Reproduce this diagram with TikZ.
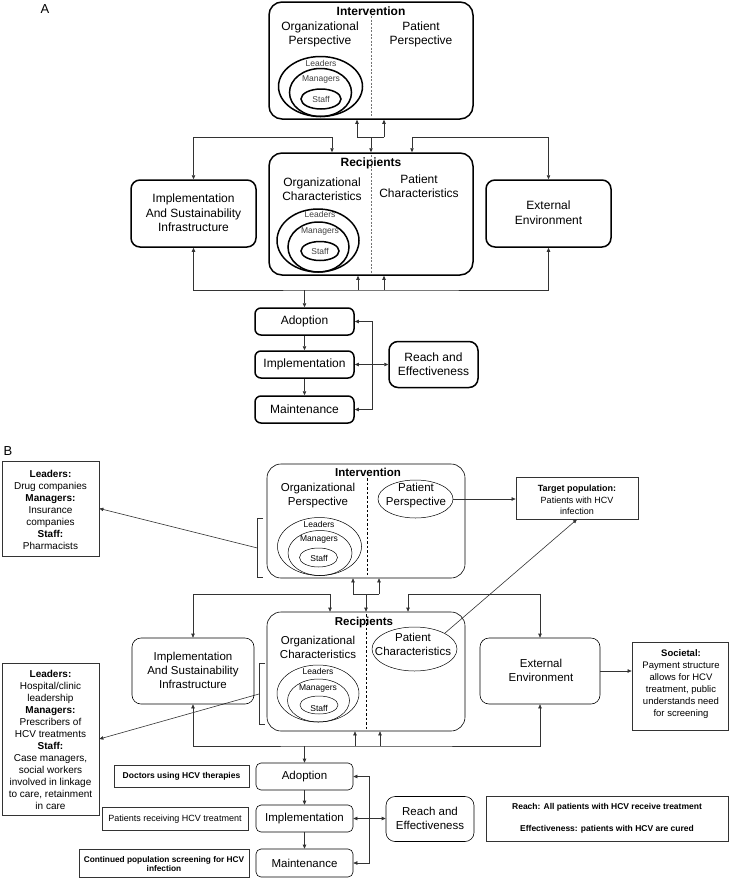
\documentclass[tikz,border=0pt]{standalone}
\usepackage{fontspec}
\setmainfont{Liberation Sans}
\usetikzlibrary{arrows.meta,shapes.geometric,calc}
\newcommand\fsA{\fontsize{12}{14.5}\selectfont}
\newcommand\fsB{\fontsize{11.5}{14}\selectfont}
\newcommand\fsS{\fontsize{8.5}{10}\selectfont}
\newcommand\fsL{\fontsize{10}{12}\selectfont}
\newcommand\fsT{\fontsize{9}{11.5}\selectfont}
\newcommand\fsE{\fontsize{8.5}{10}\selectfont}
\tikzset{
  >={Triangle[length=4pt,width=3.4pt]},
  boxA/.style={draw, line width=1.5pt, rounded corners=9pt, inner sep=0pt},
  bigA/.style={draw, line width=1.5pt, rounded corners=13pt, inner sep=0pt},
  boxB/.style={draw, line width=0.6pt, rounded corners=9pt, inner sep=0pt},
  bigB/.style={draw, line width=0.6pt, rounded corners=14pt, inner sep=0pt},
  smallB/.style={draw, line width=0.6pt, rounded corners=5pt, inner sep=0pt},
  tbox/.style={draw=black!80, line width=0.7pt, inner sep=0pt},
  ellA/.style={draw, ellipse, line width=1.5pt, inner sep=0pt},
  ellB/.style={draw, ellipse, line width=0.5pt, inner sep=0pt},
  conn/.style={draw=black!80, line width=0.6pt},
  txt/.style={inner sep=0pt, align=center, text=black},
  gtxt/.style={inner sep=0pt, align=center, text=black!75},
}
\begin{document}
\begin{tikzpicture}[x=1pt,y=-1pt]
\fill[white] (0,0) rectangle (729,878);
\useasboundingbox (0,0) rectangle (729,878);

% ================= PART A =================
\node[txt, font=\fontsize{13}{15}\selectfont] (labA) at (45,9) {A};

\node[bigA, minimum width=204pt, minimum height=117pt] (intA) at (371,60.5) {};
\node[txt, font=\fsA\bfseries] (tIntA) at (371,11) {Intervention};
\draw[black!55, line width=0.8pt, dash pattern=on 2pt off 1.5pt] (371,16) -- (371,117);
\node[txt, font=\fsA] (opA) at (320,34.5) {Organizational\\Perspective};
\node[txt, font=\fsA] (ppA) at (421,34.5) {Patient\\Perspective};
\node[ellA, minimum width=84pt, minimum height=60pt] (eL1) at (320.5,86.5) {};
\node[ellA, minimum width=62pt, minimum height=48pt] (eM1) at (320.5,92.5) {};
\node[ellA, minimum width=40pt, minimum height=20pt] (eS1) at (321,99) {};
\node[gtxt, font=\fsS] (tL1) at (321,63.5) {Leaders};
\node[gtxt, font=\fsS] (tM1) at (321,79) {Managers};
\node[gtxt, font=\fsS] (tS1) at (321,99.5) {Staff};

\node[bigA, minimum width=204pt, minimum height=122pt] (recA) at (371,214) {};
\node[txt, font=\fsA\bfseries] (tRecA) at (371,163) {Recipients};
\draw[black!55, line width=0.8pt, dash pattern=on 2pt off 1.5pt] (371,155) -- (371,274);
\node[txt, font=\fsA] (ocA) at (322,189) {Organizational\\Characteristics};
\node[txt, font=\fsA] (pcA) at (419,186) {Patient\\Characteristics};
\node[ellA, minimum width=82pt, minimum height=63pt] (eL2) at (318,240.5) {};
\node[ellA, minimum width=61pt, minimum height=50pt] (eM2) at (318.5,247) {};
\node[ellA, minimum width=38pt, minimum height=19pt] (eS2) at (320,251) {};
\node[gtxt, font=\fsS] (tL2) at (320,214.5) {Leaders};
\node[gtxt, font=\fsS] (tM2) at (320,231) {Managers};
\node[gtxt, font=\fsS] (tS2) at (320,251.5) {Staff};

\node[boxA, minimum width=125pt, minimum height=67pt] (implA) at (193.5,213.5) {};
\node[txt, font=\fsA] (timplA) at (193.5,213) {Implementation\\And Sustainability\\Infrastructure};
\node[boxA, minimum width=125pt, minimum height=67pt] (extA) at (548.5,213.5) {};
\node[txt, font=\fsA] (textA) at (548.5,212.5) {External\\Environment};

\node[boxA, rounded corners=6pt, minimum width=99pt, minimum height=27pt] (adoA) at (304.5,321.5) {};
\node[txt, font=\fsA] (tadoA) at (304.5,321.5) {Adoption};
\node[boxA, rounded corners=6pt, minimum width=99pt, minimum height=27pt] (impA) at (304.5,364.5) {};
\node[txt, font=\fsA] (timpA) at (304.5,364.5) {Implementation};
\node[boxA, rounded corners=6pt, minimum width=99pt, minimum height=27pt] (mainA) at (304.5,409.5) {};
\node[txt, font=\fsA] (tmainA) at (304.5,409.5) {Maintenance};
\node[boxA, minimum width=89pt, minimum height=46pt] (reachA) at (433.5,364.5) {};
\node[txt, font=\fsA] (treachA) at (433.5,364) {Reach and\\Effectiveness};

% connectors A (top)
\coordinate (tlA) at (332,137);
\coordinate (trA) at (412,137);
\coordinate (m1A) at (357,137);
\coordinate (m2A) at (384,137);
\coordinate (mcA) at (371,137);
\draw[conn,<->] (implA.north) |- (tlA) -- (tlA |- recA.north);
\draw[conn,<->] (extA.north) |- (trA) -- (trA |- recA.north);
\draw[conn,->] (m1A) -- (m1A |- intA.south);
\draw[conn,->] (m2A) -- (m2A |- intA.south);
\draw[conn] (m1A) -- (m2A);
\draw[conn,->] (mcA) -- (recA.north);
% connectors A (bottom)
\coordinate (bA) at (371,290);
\coordinate (r1A) at (358,290);
\coordinate (r2A) at (384,290);
\draw[conn,<->] (implA.south) |- (bA) -| (extA.south);
\draw[conn,->] (r1A) -- (r1A |- recA.south);
\draw[conn,->] (r2A) -- (r2A |- recA.south);
\draw[conn,->] (adoA.north |- bA) -- (adoA.north);
\draw[conn,->] (adoA.south) -- (impA.north);
\draw[conn,->] (impA.south) -- (mainA.north);
\coordinate (kA) at (372,0);
\draw[conn,<->] (adoA.east) -- (adoA.east -| kA) -- (mainA.east -| kA) -- (mainA.east);
\draw[conn,<->] (impA.east) -- (reachA.west);

% ================= PART B =================
\node[txt, font=\fontsize{13}{15}\selectfont] (labB) at (8,451) {B};

\node[tbox, minimum width=97pt, minimum height=95pt] (lb1) at (50.5,508.5) {};
\node[txt, font=\fsL] (tlb1) at (50.5,510) {\textbf{Leaders:}\\Drug companies\\\textbf{Managers:}\\Insurance\\companies\\\textbf{Staff:}\\Pharmacists};

\node[bigB, minimum width=198pt, minimum height=114pt] (intB) at (366,521) {};
\node[txt, font=\fsB\bfseries] (tIntB) at (368,472.5) {Intervention};
\draw[black, line width=0.5pt, dash pattern=on 2.5pt off 2pt] (367,478) -- (367,576);
\node[txt, font=\fsB] (opB) at (318,496) {Organizational\\Perspective};
\node[ellB, minimum width=75pt, minimum height=38pt] (ppB) at (415.5,499) {};
\node[txt, font=\fsB] (tppB) at (416,496) {Patient\\Perspective};
\node[ellB, minimum width=84pt, minimum height=58pt] (eL3) at (319.5,546.5) {};
\node[ellB, minimum width=64pt, minimum height=45pt] (eM3) at (320,553) {};
\node[ellB, minimum width=38pt, minimum height=19pt] (eS3) at (318.5,557.5) {};
\node[txt, font=\fsS] (tL3) at (319,524) {Leaders};
\node[txt, font=\fsS] (tM3) at (319,539) {Managers};
\node[txt, font=\fsS] (tS3) at (319,558) {Staff};
% bracket intervention
\draw[conn] (263,518) -- (257.5,518) -- (257.5,577.5) -- (263,577.5);
\coordinate (brI) at (257.5,548);
\draw[conn,->] (brI) -- (lb1.east);

\node[tbox, minimum width=122pt, minimum height=42pt] (tgt) at (577,498) {};
\node[txt, font=\fsT] (ttgt) at (577,500) {\textbf{Target population:}\\Patients with HCV\\infection};
\draw[conn,->] (ppB.east) -- (ppB.east -| tgt.west);

\node[bigB, minimum width=198pt, minimum height=119pt] (recB) at (366,671.5) {};
\node[txt, font=\fsB\bfseries] (tRecB) at (364,622.5) {Recipients};
\draw[black, line width=0.5pt, dash pattern=on 2.5pt off 2pt] (366,614) -- (366,730);
\node[txt, font=\fsB] (ocB) at (318,647) {Organizational\\Characteristics};
\node[ellB, minimum width=85pt, minimum height=44pt] (pcB) at (414.5,649) {};
\node[txt, font=\fsB] (tpcB) at (413,644) {Patient\\Characteristics};
\node[ellB, minimum width=82pt, minimum height=57pt] (eL4) at (318,693.5) {};
\node[ellB, minimum width=62pt, minimum height=43pt] (eM4) at (318.5,700.5) {};
\node[ellB, minimum width=38pt, minimum height=18pt] (eS4) at (319,705) {};
\node[txt, font=\fsS] (tL4) at (318,671) {Leaders};
\node[txt, font=\fsS] (tM4) at (318,688) {Managers};
\node[txt, font=\fsS] (tS4) at (319,708) {Staff};
% bracket recipients
\draw[conn] (265,663.5) -- (259,663.5) -- (259,724) -- (265,724);
\coordinate (brR) at (259,694);
\node[tbox, minimum width=97pt, minimum height=152pt] (lb2) at (50.5,739) {};
\node[txt, font=\fsL] (tlb2) at (50.5,740) {\textbf{Leaders:}\\Hospital/clinic\\leadership\\\textbf{Managers:}\\Prescribers of\\HCV treatments\\\textbf{Staff:}\\Case managers,\\social workers\\involved in linkage\\to care, retainment\\in care};
\draw[conn,->] (brR) -- (lb2.east);
\draw[conn,->] (pcB.north east) -- (tgt.south);

\node[boxB, minimum width=122pt, minimum height=66pt] (implB) at (193,671) {};
\node[txt, font=\fsB] (timplB) at (193,670) {Implementation\\And Sustainability\\Infrastructure};
\node[boxB, minimum width=120pt, minimum height=66pt] (extB) at (540,671) {};
\node[txt, font=\fsB] (textB) at (541,670) {External\\Environment};
\node[tbox, minimum width=96pt, minimum height=88pt] (soc) at (680,686) {};
\node[txt, font=\fontsize{9.5}{12}\selectfont] (tsoc) at (681,684.5) {\textbf{Societal:}\\Payment structure\\allows for HCV\\treatment, public\\understands need\\for screening};
\draw[conn,->] (extB.east) -- (extB.east -| soc.west);

% connectors B (top)
\coordinate (tlB) at (330,594);
\coordinate (trB) at (408,594);
\coordinate (m1B) at (353,594);
\coordinate (m2B) at (379,594);
\coordinate (mcB) at (366,594);
\draw[conn,<->] (implB.north) |- (tlB) -- (tlB |- recB.north);
\draw[conn,<->] (extB.north) |- (trB) -- (trB |- recB.north);
\draw[conn,->] (m1B) -- (m1B |- intB.south);
\draw[conn,->] (m2B) -- (m2B |- intB.south);
\draw[conn] (m1B) -- (m2B);
\draw[conn,->] (mcB) -- (recB.north);

% connectors B (bottom)
\coordinate (bB) at (366,746);
\coordinate (r1B) at (355,746);
\coordinate (r2B) at (380,746);
\draw[conn,<->] (implB.south) |- (bB) -| (extB.south);
\draw[conn,->] (r1B) -- (r1B |- recB.south);
\draw[conn,->] (r2B) -- (r2B |- recB.south);

\node[smallB, minimum width=97pt, minimum height=27pt] (adoB) at (304.5,776.5) {};
\node[txt, font=\fsB] (tadoB) at (304.5,777) {Adoption};
\node[smallB, minimum width=97pt, minimum height=27pt] (impB) at (304.5,818.5) {};
\node[txt, font=\fsB] (timpB) at (304.5,819) {Implementation};
\node[smallB, minimum width=97pt, minimum height=28pt] (mainB) at (304.5,863) {};
\node[txt, font=\fsB] (tmainB) at (304.5,863.5) {Maintenance};
\node[boxB, minimum width=88pt, minimum height=45pt] (reachB) at (430,819) {};
\node[txt, font=\fsB] (treachB) at (430,818) {Reach and\\Effectiveness};
\draw[conn,->] (adoB.north |- bB) -- (adoB.north);
\draw[conn,->] (adoB.south) -- (impB.north);
\draw[conn,->] (impB.south) -- (mainB.north);
\coordinate (kB) at (369,0);
\draw[conn,<->] (adoB.east) -- (adoB.east -| kB) -- (mainB.east -| kB) -- (mainB.east);
\draw[conn,<->] (impB.east) -- (impB.east -| reachB.west);

\node[tbox, minimum width=242pt, minimum height=45pt] (rdesc) at (607,818.5) {};
\node[txt, font=\fsE\bfseries] (trd1) at (607,807.5) {Reach: All patients with HCV receive treatment};
\node[txt, font=\fsE\bfseries] (trd2) at (607,829.5) {Effectiveness: patients with HCV are cured};

\node[tbox, minimum width=135pt, minimum height=22pt] (doc) at (181.5,776) {};
\node[txt, font=\fsE\bfseries] (tdoc) at (181.5,776.5) {Doctors using HCV therapies};
\node[tbox, minimum width=146pt, minimum height=23pt] (pat) at (175,818.5) {};
\node[txt, font=\fontsize{9}{10}\selectfont] (tpat) at (175,819) {Patients receiving HCV treatment};
\node[tbox, minimum width=170pt, minimum height=28pt] (cont) at (164,863) {};
\node[txt, font=\fontsize{8.3}{9.5}\selectfont\bfseries] (tcont) at (164,864) {Continued population screening for HCV\\infection};
\end{tikzpicture}
\end{document}
